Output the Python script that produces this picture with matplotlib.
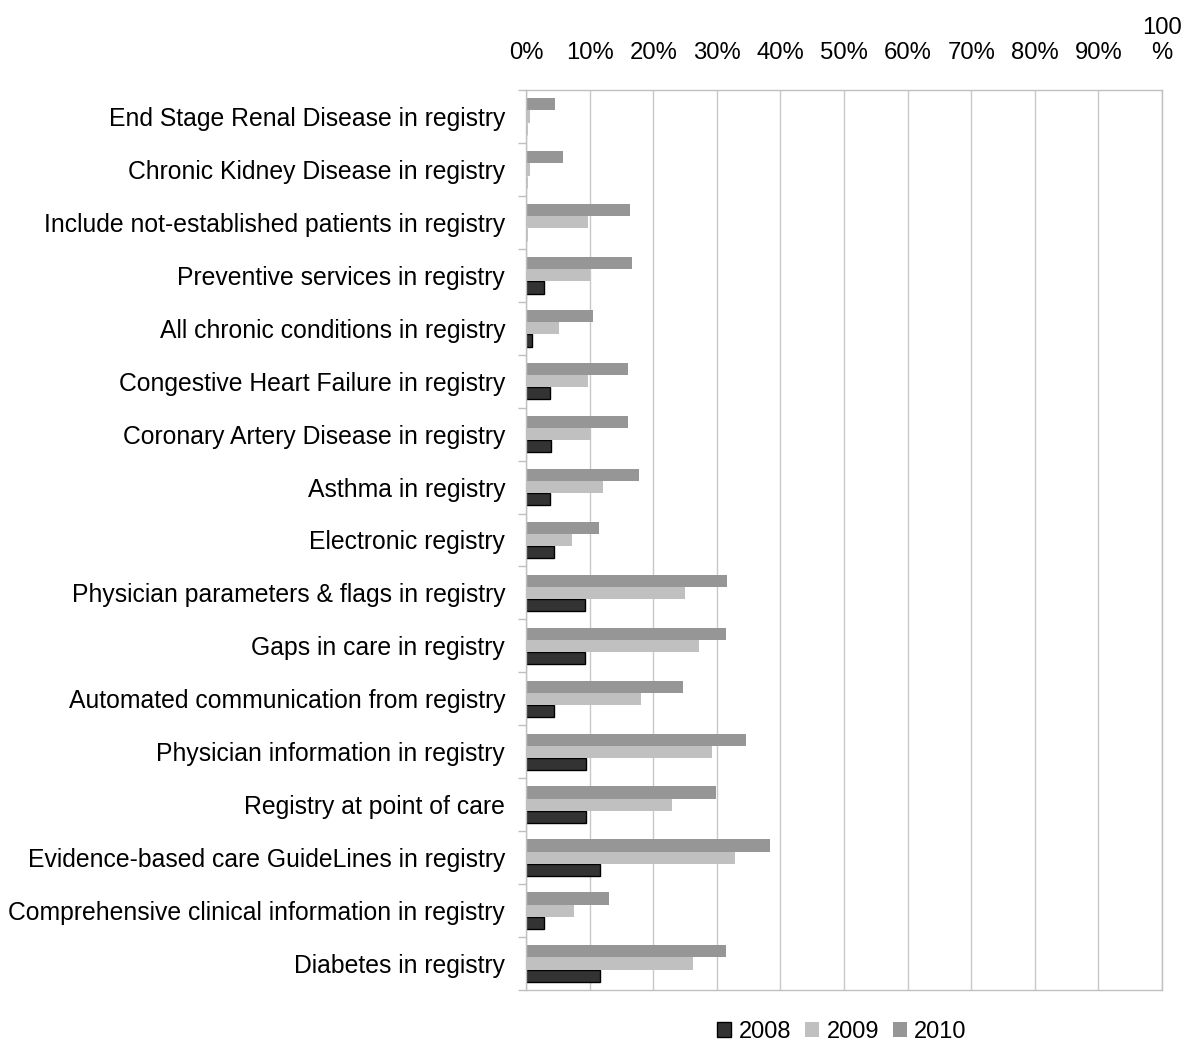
import matplotlib
matplotlib.use("Agg")
import matplotlib.pyplot as plt
import numpy as np
from matplotlib.ticker import FixedLocator

plt.rcParams['font.family'] = ['Liberation Sans', 'DejaVu Sans']

# categories listed top to bottom
categories = [
    "End Stage Renal Disease in registry",
    "Chronic Kidney Disease in registry",
    "Include not-established patients in registry",
    "Preventive services in registry",
    "All chronic conditions in registry",
    "Congestive Heart Failure in registry",
    "Coronary Artery Disease in registry",
    "Asthma in registry",
    "Electronic registry",
    "Physician parameters & flags in registry",
    "Gaps in care in registry",
    "Automated communication from registry",
    "Physician information in registry",
    "Registry at point of care",
    "Evidence-based care GuideLines in registry",
    "Comprehensive clinical information in registry",
    "Diabetes in registry",
]
y2008 = [0.0, 0.0, 0.0, 2.8, 1.0, 3.7, 4.0, 3.7, 4.4, 9.2, 9.2, 4.4, 9.5, 9.5, 11.6, 2.8, 11.6]
y2009 = [0.6, 0.6, 9.7, 10.0, 5.2, 9.7, 10.2, 12.1, 7.2, 25.0, 27.2, 18.1, 29.2, 23.0, 32.9, 7.5, 26.3]
y2010 = [4.6, 5.8, 16.4, 16.7, 10.5, 16.0, 16.0, 17.8, 11.5, 31.6, 31.4, 24.7, 34.6, 29.9, 38.4, 13.1, 31.4]
xticks = [0, 10, 20, 30, 40, 50, 60, 70, 80, 90, 100]
xticklabels = ["0%", "10%", "20%", "30%", "40%", "50%", "60%", "70%", "80%", "90%", "100\n%"]

fig = plt.figure(figsize=(11.91, 10.48), dpi=100)
ax = fig.add_axes([526 / 1191, 1 - 990 / 1048, (1162 - 526) / 1191, (990 - 90) / 1048])

n = len(categories)
pos = np.arange(n)
h = 0.23
ax.barh(pos + h, y2008, height=h, color="#333333", edgecolor="black", linewidth=1.0, label="2008")
ax.barh(pos, y2009, height=h, color="#c0c0c0", linewidth=0, label="2009")
ax.barh(pos - h, y2010, height=h, color="#969696", linewidth=0, label="2010")

ax.set_ylim(n - 0.5, -0.5)
ax.set_xlim(0, 100)
ax.set_yticks(pos)
ax.set_yticklabels(categories, fontsize=17.8)
ax.yaxis.set_minor_locator(FixedLocator(np.arange(-0.5, n, 1.0)))
ax.tick_params(axis='y', which='major', length=0, pad=15)
ax.tick_params(axis='y', which='minor', length=6, color="#bfbfbf", width=1)

ax.xaxis.tick_top()
ax.set_xticks(xticks)
ax.set_xticklabels(xticklabels, fontsize=17.2, linespacing=1.15)
ax.tick_params(axis='x', length=0, pad=19)

ax.grid(axis='x', color="#c8c8c8", linewidth=1)
ax.set_axisbelow(True)
for s in ax.spines.values():
    s.set_color("#c0c0c0")
    s.set_linewidth(1)

fig.legend(loc="center", bbox_to_anchor=(842 / 1191, 1 - 1032 / 1048), ncol=3, frameon=False,
           fontsize=17, handlelength=0.6, handleheight=0.6, handletextpad=0.3, columnspacing=0.6)

fig.savefig("out.png", dpi=100)
